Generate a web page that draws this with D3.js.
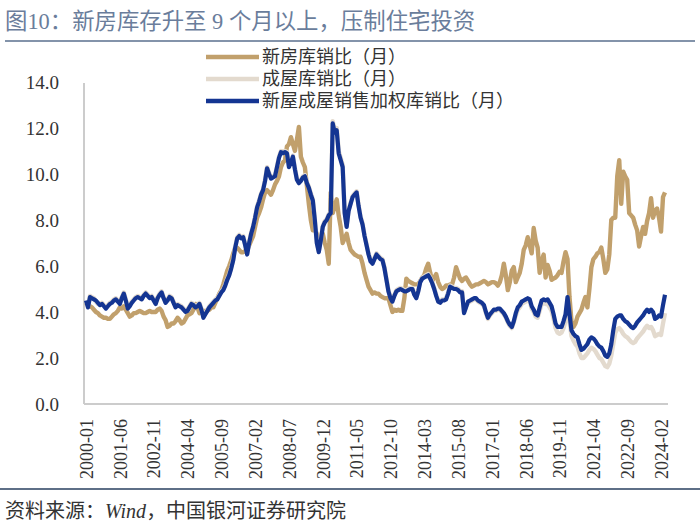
<!DOCTYPE html>
<html><head><meta charset="utf-8">
<script src="https://cdn.jsdelivr.net/npm/d3@7"></script>
<style>
body{margin:0;background:#fff;}
svg{display:block;}
</style></head>
<body><svg id="c" width="700" height="527"></svg>
<script>
const title = "图10：新房库存升至 9 个月以上，压制住宅投资";
const sourceParts = ["资料来源：", "Wind", "，中国银河证券研究院"];
const seriesNames = ["新房库销比（月）", "成屋库销比（月）", "新屋成屋销售加权库销比（月）"];
const tickLabels = ["2000-01","2001-06","2002-11","2004-04","2005-09","2007-02","2008-07","2009-12","2011-05","2012-10","2014-03","2015-08","2017-01","2018-06","2019-11","2021-04","2022-09","2024-02"];
const yTicks = [0, 2, 4, 6, 8, 10, 12, 14];

// 新房库销比 monthly, 2000-01 .. 2024-04
const newHome = [
4.4,4.3,4.25,4.2,4.1,4.0,3.95,3.85,3.8,3.75,3.75,3.7,
3.7,3.8,3.9,3.95,4.05,4.2,4.15,4.25,4.1,3.95,3.8,3.85,
3.95,3.95,4.0,4.05,4.0,3.95,3.95,4.0,4.05,4.0,4.0,4.0,
4.1,4.15,4.05,3.8,3.65,3.35,3.4,3.5,3.5,3.6,3.75,3.65,
3.5,3.55,3.7,3.85,3.9,3.95,4.1,4.35,4.2,3.95,4.0,4.05,
4.05,4.05,4.1,4.2,4.2,4.4,4.6,4.8,4.95,5.2,5.5,5.8,
6.0,6.25,6.55,6.8,6.8,6.7,6.6,6.6,6.65,6.7,6.9,7.1,
7.3,7.7,8.1,8.3,8.55,8.9,9.2,9.3,9.2,9.1,9.3,9.55,
9.7,9.9,10.3,10.5,10.6,11.2,11.3,11.6,11.3,11.0,11.5,12.05,
10.75,10.5,10.3,9.5,8.7,8.0,7.55,7.6,7.4,7.1,7.2,7.4,
7.0,6.7,6.1,9.2,8.3,8.6,8.9,8.2,7.7,7.0,7.2,7.4,
7.0,6.7,6.6,6.5,6.45,6.4,6.4,6.1,5.7,5.4,5.1,4.95,
4.8,4.85,4.8,4.8,4.7,4.65,4.6,4.6,4.6,4.3,4.0,4.1,
4.05,4.1,4.05,4.05,4.6,5.45,5.35,5.3,5.25,5.2,5.2,5.2,
5.35,5.5,5.6,5.9,6.1,5.7,5.35,5.5,5.65,5.3,5.1,5.0,
5.05,5.15,5.15,5.2,5.2,5.5,5.95,5.7,5.45,5.35,5.45,5.5,
5.35,5.2,5.1,5.15,5.2,5.2,5.25,5.3,5.35,5.3,5.2,5.25,
5.3,5.3,5.25,5.15,5.3,5.6,6.1,5.6,4.95,5.3,5.8,5.95,
5.3,5.5,5.7,6.1,6.7,6.9,7.25,6.9,6.55,7.65,7.1,6.8,
5.7,6.2,6.5,5.5,6.05,5.8,5.4,5.45,5.5,5.6,5.75,5.7,
6.2,6.6,6.3,4.65,3.6,3.35,3.5,3.8,3.95,4.1,4.4,4.65,
4.2,5.0,5.95,6.3,6.4,6.55,6.6,6.8,6.3,5.7,5.85,6.5,
8.0,8.1,8.1,9.9,10.6,8.7,10.1,9.9,9.75,8.3,8.2,8.1,
7.8,7.55,6.85,7.3,7.7,7.4,7.95,8.3,8.95,8.1,8.4,8.5,
8.1,7.5,9.0,9.2
];

// 成屋库销比 monthly
const existingHome = [
4.45,4.25,4.7,4.65,4.6,4.45,4.35,4.3,4.4,4.3,4.2,4.3,
4.4,4.45,4.55,4.6,4.5,4.4,4.65,4.85,4.55,4.2,4.3,4.45,
4.55,4.65,4.7,4.65,4.6,4.75,4.85,4.75,4.65,4.7,4.55,4.4,
4.65,4.8,4.9,4.65,4.45,4.55,4.7,4.65,4.45,4.25,4.35,4.3,
4.25,4.15,4.05,4.1,4.25,4.4,4.35,4.25,4.3,4.4,4.15,3.8,
3.95,4.1,4.25,4.35,4.45,4.55,4.6,4.75,4.9,5.0,5.2,5.45,
5.65,5.95,6.3,6.85,7.25,7.35,7.25,7.3,6.95,6.55,7.05,7.45,
7.75,8.15,8.6,8.85,9.15,9.35,9.75,10.3,10.05,9.85,9.9,9.95,
10.35,10.75,11.0,10.95,11.0,10.95,10.35,10.55,10.8,10.25,9.8,9.65,
9.75,9.9,9.95,9.65,9.45,9.15,8.9,8.05,7.05,6.65,7.15,7.75,
7.95,8.05,8.25,8.35,12.3,11.9,12.0,11.0,10.7,10.4,8.35,7.75,
8.45,8.75,9.05,9.15,9.25,8.65,8.15,7.85,7.35,6.95,6.55,6.25,
6.15,6.35,6.55,6.45,6.35,6.3,5.95,5.45,4.95,4.65,4.5,4.75,
4.95,5.0,5.05,5.0,4.95,4.95,5.0,5.05,5.05,4.8,4.65,4.95,
5.35,5.5,5.55,5.6,5.65,5.5,5.3,5.05,4.75,4.5,4.45,4.55,
4.55,4.6,4.85,5.15,5.1,5.05,5.05,5.0,4.9,4.9,4.0,4.25,
4.4,4.45,4.5,4.55,4.55,4.45,4.4,4.35,4.25,3.95,3.7,3.85,
3.95,4.05,4.05,4.1,4.1,4.0,3.9,3.75,3.55,3.4,3.3,3.55,
3.85,4.1,4.2,4.35,4.4,4.45,4.5,4.45,4.15,4.0,3.8,3.75,
4.05,4.35,4.4,4.35,4.35,4.2,4.05,3.7,3.3,3.1,3.05,3.1,
3.3,3.6,4.4,3.6,2.95,2.75,2.6,2.5,2.2,2.0,2.0,2.1,
2.2,2.35,2.45,2.4,2.3,2.15,2.0,1.95,1.8,1.65,1.6,1.75,
2.1,2.6,3.1,3.25,3.3,3.2,3.05,2.95,2.9,2.8,2.7,2.65,
2.7,2.85,2.95,3.05,3.15,3.3,3.4,3.3,3.35,3.2,2.95,3.0,
3.05,3.0,3.5,3.95
];

// 新屋成屋销售加权库销比 monthly
const weighted = [
4.5,4.2,4.65,4.6,4.55,4.5,4.4,4.3,4.35,4.25,4.15,4.25,
4.35,4.4,4.5,4.55,4.45,4.35,4.6,4.8,4.5,4.15,4.25,4.4,
4.5,4.6,4.65,4.6,4.55,4.7,4.8,4.7,4.6,4.65,4.5,4.35,
4.6,4.75,4.85,4.6,4.4,4.5,4.65,4.6,4.4,4.2,4.3,4.25,
4.2,4.1,4.0,4.05,4.2,4.35,4.3,4.2,4.25,4.35,4.1,3.75,
3.9,4.05,4.2,4.3,4.4,4.5,4.55,4.7,4.85,4.95,5.15,5.4,
5.6,5.9,6.25,6.8,7.2,7.3,7.2,7.25,6.9,6.5,7.0,7.4,
7.7,8.1,8.55,8.8,9.1,9.3,9.7,10.25,10.0,9.8,9.85,9.9,
10.3,10.7,10.95,10.9,10.95,10.9,10.3,10.5,10.75,10.2,9.75,9.6,
9.7,9.85,9.9,9.6,9.4,9.1,8.85,8.0,7.0,6.6,7.1,7.7,
7.9,8.0,8.2,8.3,12.2,11.8,11.9,10.9,10.6,10.3,8.3,7.7,
8.4,8.7,9.0,9.1,9.2,8.6,8.1,7.8,7.3,6.9,6.5,6.2,
6.1,6.3,6.5,6.4,6.3,6.25,5.9,5.4,4.9,4.6,4.45,4.7,
4.9,4.95,5.0,4.95,4.9,4.9,4.95,5.0,5.0,4.75,4.6,4.9,
5.3,5.45,5.5,5.55,5.6,5.45,5.25,5.0,4.7,4.45,4.4,4.5,
4.5,4.55,4.8,5.1,5.05,5.0,5.0,4.95,4.85,4.85,3.95,4.2,
4.45,4.5,4.55,4.6,4.6,4.5,4.45,4.4,4.3,4.0,3.75,3.9,
4.0,4.1,4.1,4.15,4.15,4.05,3.95,3.8,3.6,3.45,3.35,3.6,
3.95,4.2,4.3,4.45,4.5,4.55,4.6,4.55,4.25,4.1,3.9,3.85,
4.2,4.5,4.55,4.5,4.55,4.4,4.25,3.9,3.5,3.35,3.35,3.35,
3.6,3.9,4.65,3.9,3.2,3.05,2.95,2.9,2.6,2.35,2.4,2.5,
2.6,2.8,2.9,2.85,2.75,2.6,2.5,2.45,2.3,2.1,2.05,2.2,
2.6,3.2,3.7,3.8,3.85,3.85,3.7,3.6,3.55,3.45,3.35,3.3,
3.4,3.55,3.65,3.75,3.85,4.0,4.1,4.0,4.1,4.0,3.7,3.75,
3.85,3.8,4.3,4.75
];

const colors = ["#c1a06c", "#e3dace", "#143592"];

// months list 2000-01 .. (length of data)
const months = [];
for (let i = 0; i < weighted.length; i++) {
  const y = 2000 + Math.floor(i / 12), m = i % 12 + 1;
  months.push(y + "-" + (m < 10 ? "0" + m : m));
}

const svg = d3.select("#c");
const serif = "'Liberation Serif','Noto Sans CJK SC',serif";

// title
svg.append("text").attr("x", 5).attr("y", 29)
  .attr("font-family", serif).attr("font-size", 22.4).attr("fill", "#6a7d9b")
  .text(title);
svg.append("line").attr("x1", 5).attr("x2", 695).attr("y1", 41).attr("y2", 41)
  .attr("stroke", "#8393aa").attr("stroke-width", 2);

const x = d3.scalePoint().domain(months).range([86, 665]);
const y = d3.scaleLinear().domain([0, 14]).range([404, 82]);

// y axis
const yAxis = svg.append("g").attr("transform", "translate(84,0)")
  .call(d3.axisLeft(y).tickValues(yTicks).tickFormat(d3.format(".1f")).tickSize(0).tickPadding(25));
yAxis.select(".domain").remove();
yAxis.selectAll("text").attr("font-family", serif).attr("font-size", 19).attr("fill", "#333");

// x axis
const xAxis = svg.append("g").attr("transform", "translate(0,404)")
  .call(d3.axisBottom(x).tickValues(tickLabels).tickSize(0).tickPadding(0));
xAxis.select(".domain").remove();
xAxis.selectAll("text")
  .attr("font-family", serif).attr("font-size", 18).attr("fill", "#333")
  .attr("text-anchor", "end").attr("transform", "rotate(-90)")
  .attr("x", -15).attr("y", 0).attr("dy", "0.35em");

// frame lines
svg.append("line").attr("x1", 84).attr("x2", 84).attr("y1", 83).attr("y2", 404)
  .attr("stroke", "#cccccc").attr("stroke-width", 2);
svg.append("line").attr("x1", 84).attr("x2", 668).attr("y1", 404).attr("y2", 404)
  .attr("stroke", "#cccccc").attr("stroke-width", 2);

// lines
const series = [newHome, existingHome, weighted];
const widths = [4.4, 4.4, 4.2];
const line = d3.line().x((d, i) => x(months[i])).y(d => y(d));
series.forEach((s, k) => {
  svg.append("path").datum(s).attr("d", line)
    .attr("fill", "none").attr("stroke", colors[k]).attr("stroke-width", widths[k])
    .attr("stroke-linejoin", "round");
});

// legend
const lg = svg.append("g");
seriesNames.forEach((n, k) => {
  const yy = 57 + k * 22;
  lg.append("line").attr("x1", 206).attr("x2", 259).attr("y1", yy).attr("y2", yy)
    .attr("stroke", colors[k]).attr("stroke-width", 4.5);
  lg.append("text").attr("x", 262).attr("y", yy).attr("dy", "0.35em")
    .attr("font-family", serif).attr("font-size", 18).attr("fill", "#333").text(n);
});

// footer
svg.append("line").attr("x1", 0).attr("x2", 700).attr("y1", 489).attr("y2", 489)
  .attr("stroke", "#5e6f87").attr("stroke-width", 2);
const ft = svg.append("text").attr("x", 5).attr("y", 518)
  .attr("font-family", serif).attr("font-size", 20).attr("fill", "#333");
sourceParts.forEach((p, i) => {
  ft.append("tspan").attr("font-style", i === 1 ? "italic" : "normal").text(p);
});
</script>
</body></html>
